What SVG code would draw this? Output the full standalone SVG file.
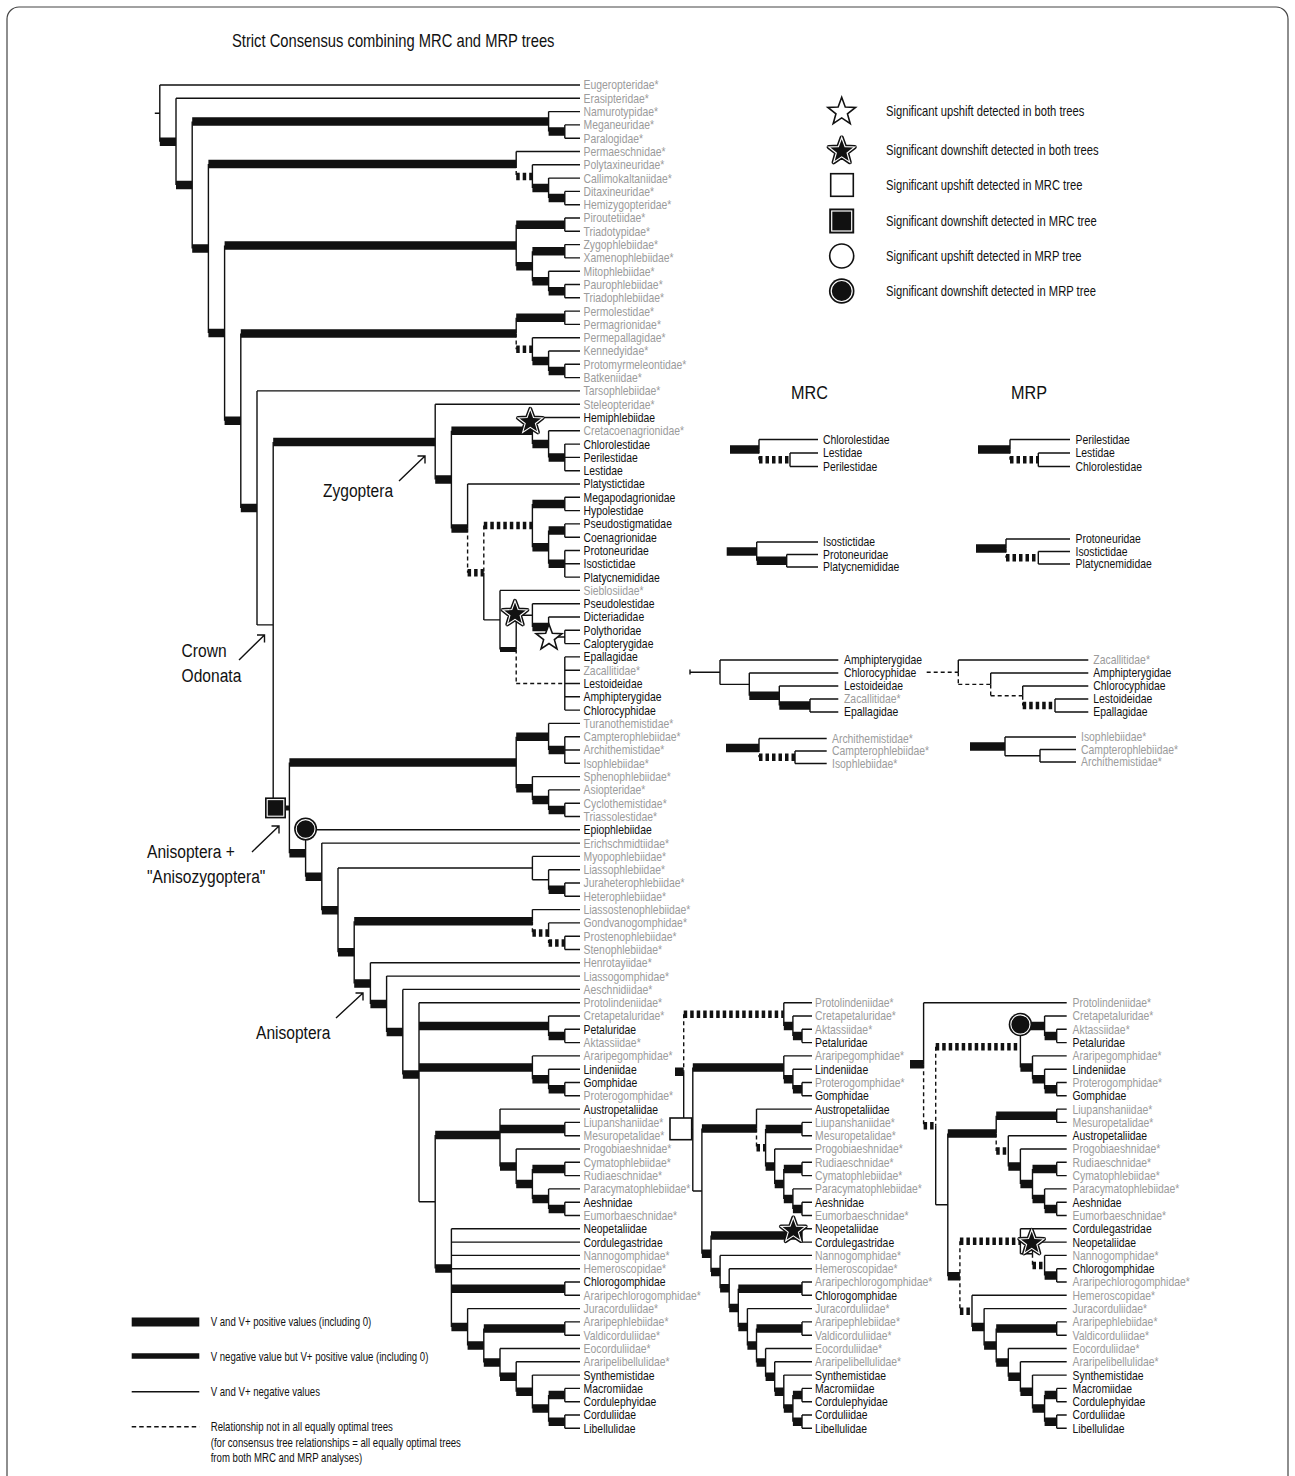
<svg xmlns="http://www.w3.org/2000/svg" width="1295" height="1476" viewBox="0 0 1295 1476">
<style>
.t{fill:none;stroke:#111;stroke-width:1.4}
.k{fill:none;stroke:#111;stroke-width:8.5}
.md{fill:none;stroke:#111;stroke-width:5}
.d{fill:none;stroke:#111;stroke-width:1.4;stroke-dasharray:4 3}
.kd{fill:none;stroke:#111;stroke-width:7.5;stroke-dasharray:3.5 3}
text{font-family:"Liberation Sans",Arial,Helvetica,sans-serif;fill:#111}
.lb text{font-size:13px}
.g{fill:#9b9b9b}
.big{font-size:19px}
.leg text{font-size:14px}
.leg2 text{font-size:13px}
</style>
<defs>
<polygon id="st" points="0,-13 3.17,-4.36 12.36,-4.02 5.12,1.66 7.64,10.52 0,5.39 -7.64,10.52 -5.12,1.66 -12.36,-4.02 -3.17,-4.36"/>
</defs>
<rect x="7" y="7" width="1281" height="1495" rx="12" fill="#fff" stroke="#444" stroke-width="1.2"/>
<text id="title" transform="translate(232,47) scale(.82,1)" font-size="18">Strict Consensus combining MRC and MRP trees</text>

<g id="connectors">
<path class="t" d="M154.8 113.3H159.8M159.8 85V141.7M159.8 85H580M176 98.3V185.1M176 98.3H580M192.2 121.6V248.5M548.6 111.6V131.6M548.6 111.6H580M564.8 124.9V138.2M564.8 124.9H580M564.8 138.2H580M208.4 164V333.1M516.2 151.5V164M516.2 151.5H580M532.4 164.8V188.1M532.4 164.8H580M548.6 178.1V198.1M548.6 178.1H580M564.8 191.4V204.7M564.8 191.4H580M564.8 204.7H580M224.6 245.4V420.7M516.2 224.7V266.2M564.8 218V231.3M564.8 218H580M564.8 231.3H580M532.4 251.3V281.2M564.8 244.6V257.9M564.8 244.6H580M564.8 257.9H580M548.6 271.2V291.2M548.6 271.2H580M564.8 284.5V297.8M564.8 284.5H580M564.8 297.8H580M240.8 333.5V507.9M516.2 317.8V333.5M564.8 311.1V324.4M564.8 311.1H580M564.8 324.4H580M532.4 337.7V361M532.4 337.7H580M548.6 351V371M548.6 351H580M564.8 364.3V377.6M564.8 364.3H580M564.8 377.6H580M257 390.9V624.9M257 390.9H580M257 624.9H273.2M273.2 441.9V807.9M273.2 807.9H289.4M435.2 404.2V479.6M435.2 404.2H580M451.4 430.8V528.4M532.4 417.5V444.1M532.4 417.5H580M548.6 430.8V457.4M548.6 430.8H580M564.8 444.1V470.7M564.8 444.1H580M564.8 457.4H580M564.8 470.7H580M467.6 484V528.4M467.6 484H580M483.8 572.7V619.9M483.8 619.9H500M532.4 504V547.2M564.8 497.3V510.6M564.8 497.3H580M564.8 510.6H580M548.6 530.6V563.8M564.8 523.9V537.2M564.8 523.9H580M564.8 537.2H580M564.8 550.5V577.1M564.8 550.5H580M564.8 563.8H580M564.8 577.1H580M500 590.4V649.4M500 590.4H580M516.2 615.3V649.4M516.2 615.3H532.4M532.4 603.7V627M532.4 603.7H580M548.6 617V637M548.6 617H580M548.6 637H564.8M564.8 630.3V643.6M564.8 630.3H580M564.8 643.6H580M564.8 656.9V710.1M564.8 656.9H580M564.8 670.2H580M564.8 683.5H580M564.8 696.8H580M564.8 710.1H580M289.4 762.5V853.2M516.2 736.7V788.2M548.6 723.4V750M548.6 723.4H580M564.8 736.7V763.3M564.8 736.7H580M564.8 750H580M564.8 763.3H580M532.4 776.6V799.9M532.4 776.6H580M548.6 789.9V809.9M548.6 789.9H580M564.8 803.2V816.5M564.8 803.2H580M564.8 816.5H580M305.6 829.8V876.7M305.6 829.8H580M321.8 843.1V910.2M321.8 843.1H580M338 868V952.3M338 868H532.4M532.4 856.4V879.7M532.4 856.4H580M532.4 879.7H548.6M548.6 869.7V889.7M548.6 869.7H580M564.8 883V896.3M564.8 883H580M564.8 896.3H580M354.2 921.2V983.4M532.4 909.6V921.2M532.4 909.6H580M548.6 922.9V932.9M548.6 922.9H580M564.8 936.2V949.5M564.8 936.2H580M564.8 949.5H580M370.4 962.8V1004M370.4 962.8H580M386.6 976.1V1031.9M386.6 976.1H580M402.8 989.4V1074.5M402.8 989.4H580M419 1002.7V1201.7M419 1002.7H580M419 1201.7H435.2M548.6 1016V1036M548.6 1016H580M564.8 1029.3V1042.6M564.8 1029.3H580M564.8 1042.6H580M532.4 1055.9V1079.2M532.4 1055.9H580M548.6 1069.2V1089.2M548.6 1069.2H580M564.8 1082.5V1095.8M564.8 1082.5H580M564.8 1095.8H580M435.2 1134.9V1268.5M500 1109.1V1166.5M500 1109.1H580M564.8 1122.4V1135.7M564.8 1122.4H580M564.8 1135.7H580M516.2 1149V1183.9M516.2 1149H580M532.4 1169V1198.9M564.8 1162.3V1175.6M564.8 1162.3H580M564.8 1175.6H580M548.6 1188.9V1208.9M548.6 1188.9H580M564.8 1202.2V1215.5M564.8 1202.2H580M564.8 1215.5H580M451.4 1228.8V1327.1M451.4 1228.8H580M451.4 1242.1H580M451.4 1255.4H580M451.4 1268.7H580M564.8 1282V1295.3M564.8 1282H580M564.8 1295.3H580M467.6 1308.6V1345.6M467.6 1308.6H580M483.8 1328.6V1362.6M564.8 1321.9V1335.2M564.8 1321.9H580M564.8 1335.2H580M500 1348.5V1376.8M500 1348.5H580M516.2 1361.8V1391.7M516.2 1361.8H580M532.4 1375.1V1408.4M532.4 1375.1H580M548.6 1395.1V1421.7M564.8 1388.4V1401.7M564.8 1388.4H580M564.8 1401.7H580M564.8 1415V1428.3M564.8 1415H580M564.8 1428.3H580"/>
<path class="k" d="M159.8 141.7H176M176 185.1H192.2M192.2 121.6H548.6M548.6 131.6H564.8M192.2 248.5H208.4M208.4 164H516.2M532.4 188.1H548.6M548.6 198.1H564.8M208.4 333.1H224.6M224.6 245.4H516.2M516.2 224.7H564.8M516.2 266.2H532.4M532.4 251.3H564.8M532.4 281.2H548.6M548.6 291.2H564.8M224.6 420.7H240.8M240.8 333.5H516.2M516.2 317.8H564.8M532.4 361H548.6M548.6 371H564.8M240.8 507.9H257M273.2 441.9H435.2M435.2 479.6H451.4M451.4 430.8H532.4M532.4 444.1H548.6M548.6 457.4H564.8M451.4 528.4H467.6M532.4 504H564.8M532.4 547.2H548.6M548.6 530.6H564.8M548.6 563.8H564.8M532.4 627H548.6M289.4 762.5H516.2M516.2 736.7H548.6M548.6 750H564.8M516.2 788.2H532.4M532.4 799.9H548.6M548.6 809.9H564.8M289.4 853.2H305.6M305.6 876.7H321.8M321.8 910.2H338M548.6 889.7H564.8M338 952.3H354.2M354.2 921.2H532.4M354.2 983.4H370.4M370.4 1004H386.6M386.6 1031.9H402.8M402.8 1074.5H419M419 1026H548.6M548.6 1036H564.8M419 1067.5H532.4M532.4 1079.2H548.6M548.6 1089.2H564.8M435.2 1134.9H500M500 1129.1H564.8M500 1166.5H516.2M516.2 1183.9H532.4M532.4 1169H564.8M532.4 1198.9H548.6M548.6 1208.9H564.8M435.2 1268.5H451.4M451.4 1288.7H564.8M451.4 1327.1H467.6M467.6 1345.6H483.8M483.8 1328.6H564.8M483.8 1362.6H500M500 1376.8H516.2M516.2 1391.7H532.4M532.4 1408.4H548.6M548.6 1395.1H564.8M548.6 1421.7H564.8"/>
<path class="md" d="M500 649.4H516.2M284 807.9H289.4"/>
<path class="kd" d="M516.2 176.4H532.4M516.2 349.3H532.4M467.6 572.7H483.8M483.8 525.6H532.4M532.4 932.9H548.6M548.6 942.9H564.8"/>
<path class="d" d="M516.2 164V176.4M516.2 333.5V349.3M467.6 528.4V572.7M483.8 525.6V572.7M516.2 649.4V683.5M516.2 683.5H564.8M532.4 921.2V932.9M548.6 932.9V942.9"/>

<path class="t" d="M683.7 1071.8V1129.3M683.7 1129.3H692.8M783.8 1002.7V1026M783.8 1002.7H812M792.9 1016V1036M792.9 1016H812M802 1029.3V1042.6M802 1029.3H812M802 1042.6H812M692.8 1067.5V1191M692.8 1191H701.9M783.8 1055.9V1079.2M783.8 1055.9H812M792.9 1069.2V1089.2M792.9 1069.2H812M802 1082.5V1095.8M802 1082.5H812M802 1095.8H812M701.9 1128.4V1253.7M756.5 1109.1V1128.4M756.5 1109.1H812M765.6 1129.1V1166.5M802 1122.4V1135.7M802 1122.4H812M802 1135.7H812M774.7 1149V1183.9M774.7 1149H812M783.8 1169V1198.9M802 1162.3V1175.6M802 1162.3H812M802 1175.6H812M792.9 1188.9V1208.9M792.9 1188.9H812M802 1202.2V1215.5M802 1202.2H812M802 1215.5H812M711 1235.5V1271.9M802 1228.8V1242.1M802 1228.8H812M802 1242.1H812M720.1 1255.4V1288.3M720.1 1255.4H812M729.2 1268.7V1307.9M729.2 1268.7H812M738.3 1288.7V1327.1M802 1282V1295.3M802 1282H812M802 1295.3H812M747.4 1308.6V1345.6M747.4 1308.6H812M756.5 1328.6V1362.6M802 1321.9V1335.2M802 1321.9H812M802 1335.2H812M765.6 1348.5V1376.8M765.6 1348.5H812M774.7 1361.8V1391.7M774.7 1361.8H812M783.8 1375.1V1408.4M783.8 1375.1H812M792.9 1395.1V1421.7M802 1388.4V1401.7M802 1388.4H812M802 1401.7H812M802 1415V1428.3M802 1415H812M802 1428.3H812"/>
<path class="k" d="M675 1071.8H683.7M783.8 1026H792.9M792.9 1036H802M692.8 1067.5H783.8M783.8 1079.2H792.9M792.9 1089.2H802M701.9 1128.4H756.5M765.6 1129.1H802M765.6 1166.5H774.7M774.7 1183.9H783.8M783.8 1169H802M783.8 1198.9H792.9M792.9 1208.9H802M701.9 1253.7H711M711 1235.5H802M711 1271.9H720.1M720.1 1288.3H729.2M729.2 1307.9H738.3M738.3 1288.7H802M738.3 1327.1H747.4M747.4 1345.6H756.5M756.5 1328.6H802M756.5 1362.6H765.6M765.6 1376.8H774.7M774.7 1391.7H783.8M783.8 1408.4H792.9M792.9 1395.1H802M792.9 1421.7H802"/>
<path class="kd" d="M683.7 1014.3H783.8M756.5 1147.8H765.6"/>
<path class="d" d="M683.7 1014.3V1071.8M756.5 1128.4V1147.8"/>

<path class="t" d="M923.6 1002.7V1064.3M923.6 1002.7H1066.7M935.7 1125.8V1204.8M935.7 1204.8H947.8M1020.4 1026V1067.5M1044.6 1016V1036M1044.6 1016H1066.7M1056.7 1029.3V1042.6M1056.7 1029.3H1066.7M1056.7 1042.6H1066.7M1032.5 1055.9V1079.2M1032.5 1055.9H1066.7M1044.6 1069.2V1089.2M1044.6 1069.2H1066.7M1056.7 1082.5V1095.8M1056.7 1082.5H1066.7M1056.7 1095.8H1066.7M947.8 1133.4V1276.2M996.2 1115.8V1133.4M1056.7 1109.1V1122.4M1056.7 1109.1H1066.7M1056.7 1122.4H1066.7M1008.3 1135.7V1166.5M1008.3 1135.7H1066.7M1020.4 1149V1183.9M1020.4 1149H1066.7M1032.5 1169V1198.9M1056.7 1162.3V1175.6M1056.7 1162.3H1066.7M1056.7 1175.6H1066.7M1044.6 1188.9V1208.9M1044.6 1188.9H1066.7M1056.7 1202.2V1215.5M1056.7 1202.2H1066.7M1056.7 1215.5H1066.7M1020.4 1228.8V1253.7M1020.4 1228.8H1066.7M1020.4 1253.7H1032.5M1032.5 1242.1V1253.7M1032.5 1242.1H1066.7M1044.6 1255.4V1275.4M1044.6 1255.4H1066.7M1056.7 1268.7V1282M1056.7 1268.7H1066.7M1056.7 1282H1066.7M972 1295.3V1327.1M972 1295.3H1066.7M984.1 1308.6V1345.6M984.1 1308.6H1066.7M996.2 1328.6V1362.6M1056.7 1321.9V1335.2M1056.7 1321.9H1066.7M1056.7 1335.2H1066.7M1008.3 1348.5V1376.8M1008.3 1348.5H1066.7M1020.4 1361.8V1391.7M1020.4 1361.8H1066.7M1032.5 1375.1V1408.4M1032.5 1375.1H1066.7M1044.6 1395.1V1421.7M1056.7 1388.4V1401.7M1056.7 1388.4H1066.7M1056.7 1401.7H1066.7M1056.7 1415V1428.3M1056.7 1415H1066.7M1056.7 1428.3H1066.7"/>
<path class="k" d="M910 1064.3H923.6M1020.4 1026H1044.6M1044.6 1036H1056.7M1020.4 1067.5H1032.5M1032.5 1079.2H1044.6M1044.6 1089.2H1056.7M947.8 1133.4H996.2M996.2 1115.8H1056.7M1008.3 1166.5H1020.4M1020.4 1183.9H1032.5M1032.5 1169H1056.7M1032.5 1198.9H1044.6M1044.6 1208.9H1056.7M947.8 1276.2H959.9M1044.6 1275.4H1056.7M972 1327.1H984.1M984.1 1345.6H996.2M996.2 1328.6H1056.7M996.2 1362.6H1008.3M1008.3 1376.8H1020.4M1020.4 1391.7H1032.5M1032.5 1408.4H1044.6M1044.6 1395.1H1056.7M1044.6 1421.7H1056.7"/>
<path class="kd" d="M923.6 1125.8H935.7M935.7 1046.8H1020.4M996.2 1151.1H1008.3M959.9 1241.3H1020.4M1032.5 1265.4H1044.6M959.9 1311.2H972"/>
<path class="d" d="M923.6 1064.3V1125.8M935.7 1046.8V1125.8M996.2 1133.4V1151.1M959.9 1241.3V1311.2M1032.5 1253.7V1265.4"/>

<path class="t" d="M759 439.5V449.6M759 439.5H818M790 453V466.5M790 453H818M790 466.5H818M1010 439.5V449.6M1010 439.5H1070M1038.3 453V466.5M1038.3 453H1070M1038.3 466.5H1070M756.7 542V560.8M756.7 542H818M786.7 554.5V567M786.7 554.5H818M786.7 567H818M1006 539V548.4M1006 539H1070M1038.3 551.5V564M1038.3 551.5H1070M1038.3 564H1070M690 669.5V674.5M690 672.2H720M720 660V684.4M720 660H838.3M720 684.4H749.3M749.3 673V695.8M749.3 673H838.3M779.3 686V705.5M779.3 686H838.3M810 699V712M810 699H838.3M810 712H838.3M958.3 660V672.2M958.3 660H1088.3M990.7 673V684.4M990.7 673H1088.3M1022.7 686V695.8M1022.7 686H1088.3M1055 699V712M1055 699H1088.3M1055 712H1088.3M759 738.5V747.9M759 738.5H826.7M795 751V763.5M795 751H826.7M795 763.5H826.7M1005 737V755.8M1005 737H1076M1005 755.8H1040M1040 749.5V762M1040 749.5H1076M1040 762H1076"/>
<path class="k" d="M730 449.6H759M978 449.6H1010M726.7 551.4H756.7M756.7 560.8H786.7M976 548.4H1006M749.3 695.8H779.3M779.3 705.5H810M726 747.9H759M970 746.4H1005"/>
<path class="kd" d="M759 459.8H790M1010 459.8H1038.3M1006 557.8H1038.3M1022.7 705.5H1055M759 757.3H795"/>
<path class="d" d="M759 449.6V459.8M1010 449.6V459.8M1006 548.4V557.8M926.7 672.2H958.3M958.3 672.2V684.4M958.3 684.4H990.7M990.7 684.4V695.8M990.7 695.8H1022.7M1022.7 695.8V705.5M759 747.9V757.3"/>

<g id="arrows" fill="none" stroke="#111" stroke-width="1.4">
<path d="M399 481L425 456M417.5 456H425V463.5"/>
<path d="M239 660L264.5 635M257 635H264.5V642.5"/>
<path d="M252 852L279 826M271.5 826H279V833.5"/>
<path d="M336 1018L363 993M355.5 993H363V1000.5"/>
</g>
</g>

<g id="markers">
<g id="star-lest" transform="translate(530.3,421.9)"><use href="#st" fill="#111" stroke="#111" stroke-width="4" stroke-linejoin="round"/><use href="#st" fill="#111" stroke="#fff" stroke-width="1.1"/></g>
<g id="star-cal" transform="translate(515,613.9)"><use href="#st" fill="#111" stroke="#111" stroke-width="4" stroke-linejoin="round"/><use href="#st" fill="#111" stroke="#fff" stroke-width="1.1"/></g>
<g id="star-poly" transform="translate(549,637.9) scale(1.05)"><use href="#st" fill="#fff" stroke="#111" stroke-width="1.5"/></g>
<g id="star-mrc" transform="translate(793.3,1230.5)"><use href="#st" fill="#111" stroke="#111" stroke-width="4" stroke-linejoin="round"/><use href="#st" fill="#111" stroke="#fff" stroke-width="1.1"/></g>
<g id="star-mrp" transform="translate(1031.7,1242.9)"><use href="#st" fill="#111" stroke="#111" stroke-width="4" stroke-linejoin="round"/><use href="#st" fill="#111" stroke="#fff" stroke-width="1.1"/></g>
<g id="sq-main"><rect x="265" y="797.4" width="21" height="21" fill="#111"/><rect x="267.2" y="799.6" width="16.6" height="16.6" fill="#111" stroke="#fff" stroke-width="1.1"/></g>
<g id="sq-mrc"><rect x="670" y="1118" width="21.7" height="21.7" fill="#fff" stroke="#111" stroke-width="1.6"/></g>
<g id="ci-main"><circle cx="305.6" cy="829" r="11.5" fill="#111"/><circle cx="305.6" cy="829" r="9.4" fill="#111" stroke="#fff" stroke-width="1.1"/></g>
<g id="ci-mrp"><circle cx="1020.4" cy="1024.5" r="11.7" fill="#111"/><circle cx="1020.4" cy="1024.5" r="9.6" fill="#111" stroke="#fff" stroke-width="1.1"/></g>
</g>

<g id="clade-labels">
<text id="lab-zyg" class="big" transform="translate(323,496.5) scale(.82,1)">Zygoptera</text>
<text id="lab-crown" class="big" transform="translate(181.6,657) scale(.82,1)">Crown</text>
<text id="lab-odonata" class="big" transform="translate(181.6,681.7) scale(.82,1)">Odonata</text>
<text id="lab-anis1" class="big" transform="translate(147,858) scale(.82,1)">Anisoptera +</text>
<text id="lab-anis2" class="big" transform="translate(147,883) scale(.82,1)">"Anisozygoptera"</text>
<text id="lab-anis" class="big" transform="translate(256,1039) scale(.82,1)">Anisoptera</text>
<text id="lab-mrc" transform="translate(791,399) scale(.9,1)" font-size="18">MRC</text>
<text id="lab-mrp" transform="translate(1011,399) scale(.9,1)" font-size="18">MRP</text>
</g>

<g id="main-taxa" class="lb" transform="translate(583.5,0.2) scale(.8,1)">
<text id="m1" class="g" y="89.3">Eugeropteridae*</text>
<text id="m2" class="g" y="102.6">Erasipteridae*</text>
<text id="m3" class="g" y="115.9">Namurotypidae*</text>
<text id="m4" class="g" y="129.2">Meganeuridae*</text>
<text id="m5" class="g" y="142.5">Paralogidae*</text>
<text id="m6" class="g" y="155.8">Permaeschnidae*</text>
<text id="m7" class="g" y="169.1">Polytaxineuridae*</text>
<text id="m8" class="g" y="182.4">Callimokaltaniidae*</text>
<text id="m9" class="g" y="195.7">Ditaxineuridae*</text>
<text id="m10" class="g" y="209">Hemizygopteridae*</text>
<text id="m11" class="g" y="222.3">Piroutetiidae*</text>
<text id="m12" class="g" y="235.6">Triadotypidae*</text>
<text id="m13" class="g" y="248.9">Zygophlebiidae*</text>
<text id="m14" class="g" y="262.2">Xamenophlebiidae*</text>
<text id="m15" class="g" y="275.5">Mitophlebiidae*</text>
<text id="m16" class="g" y="288.8">Paurophlebiidae*</text>
<text id="m17" class="g" y="302.1">Triadophlebiidae*</text>
<text id="m18" class="g" y="315.4">Permolestidae*</text>
<text id="m19" class="g" y="328.7">Permagrionidae*</text>
<text id="m20" class="g" y="342">Permepallagidae*</text>
<text id="m21" class="g" y="355.3">Kennedyidae*</text>
<text id="m22" class="g" y="368.6">Protomyrmeleontidae*</text>
<text id="m23" class="g" y="381.9">Batkeniidae*</text>
<text id="m24" class="g" y="395.2">Tarsophlebiidae*</text>
<text id="m25" class="g" y="408.5">Steleopteridae*</text>
<text id="m26" y="421.8">Hemiphlebiidae</text>
<text id="m27" class="g" y="435.1">Cretacoenagrionidae*</text>
<text id="m28" y="448.4">Chlorolestidae</text>
<text id="m29" y="461.7">Perilestidae</text>
<text id="m30" y="475">Lestidae</text>
<text id="m31" y="488.3">Platystictidae</text>
<text id="m32" y="501.6">Megapodagrionidae</text>
<text id="m33" y="514.9">Hypolestidae</text>
<text id="m34" y="528.2">Pseudostigmatidae</text>
<text id="m35" y="541.5">Coenagrionidae</text>
<text id="m36" y="554.8">Protoneuridae</text>
<text id="m37" y="568.1">Isostictidae</text>
<text id="m38" y="581.4">Platycnemididae</text>
<text id="m39" class="g" y="594.7">Sieblosiidae*</text>
<text id="m40" y="608">Pseudolestidae</text>
<text id="m41" y="621.3">Dicteriadidae</text>
<text id="m42" y="634.6">Polythoridae</text>
<text id="m43" y="647.9">Calopterygidae</text>
<text id="m44" y="661.2">Epallagidae</text>
<text id="m45" class="g" y="674.5">Zacallitidae*</text>
<text id="m46" y="687.8">Lestoideidae</text>
<text id="m47" y="701.1">Amphipterygidae</text>
<text id="m48" y="714.4">Chlorocyphidae</text>
<text id="m49" class="g" y="727.7">Turanothemistidae*</text>
<text id="m50" class="g" y="741">Campterophlebiidae*</text>
<text id="m51" class="g" y="754.3">Archithemistidae*</text>
<text id="m52" class="g" y="767.6">Isophlebiidae*</text>
<text id="m53" class="g" y="780.9">Sphenophlebiidae*</text>
<text id="m54" class="g" y="794.2">Asiopteridae*</text>
<text id="m55" class="g" y="807.5">Cyclothemistidae*</text>
<text id="m56" class="g" y="820.8">Triassolestidae*</text>
<text id="m57" y="834.1">Epiophlebiidae</text>
<text id="m58" class="g" y="847.4">Erichschmidtiidae*</text>
<text id="m59" class="g" y="860.7">Myopophlebiidae*</text>
<text id="m60" class="g" y="874">Liassophlebiidae*</text>
<text id="m61" class="g" y="887.3">Juraheterophlebiidae*</text>
<text id="m62" class="g" y="900.6">Heterophlebiidae*</text>
<text id="m63" class="g" y="913.9">Liassostenophlebiidae*</text>
<text id="m64" class="g" y="927.2">Gondvanogomphidae*</text>
<text id="m65" class="g" y="940.5">Prostenophlebiidae*</text>
<text id="m66" class="g" y="953.8">Stenophlebiidae*</text>
<text id="m67" class="g" y="967.1">Henrotayiidae*</text>
<text id="m68" class="g" y="980.4">Liassogomphidae*</text>
<text id="m69" class="g" y="993.7">Aeschnidiidae*</text>
<text id="m70" class="g" y="1007">Protolindeniidae*</text>
<text id="m71" class="g" y="1020.3">Cretapetaluridae*</text>
<text id="m72" y="1033.6">Petaluridae</text>
<text id="m73" class="g" y="1046.9">Aktassiidae*</text>
<text id="m74" class="g" y="1060.2">Araripegomphidae*</text>
<text id="m75" y="1073.5">Lindeniidae</text>
<text id="m76" y="1086.8">Gomphidae</text>
<text id="m77" class="g" y="1100.1">Proterogomphidae*</text>
<text id="m78" y="1113.4">Austropetaliidae</text>
<text id="m79" class="g" y="1126.7">Liupanshaniidae*</text>
<text id="m80" class="g" y="1140">Mesuropetalidae*</text>
<text id="m81" class="g" y="1153.3">Progobiaeshnidae*</text>
<text id="m82" class="g" y="1166.6">Cymatophlebiidae*</text>
<text id="m83" class="g" y="1179.9">Rudiaeschnidae*</text>
<text id="m84" class="g" y="1193.2">Paracymatophlebiidae*</text>
<text id="m85" y="1206.5">Aeshnidae</text>
<text id="m86" class="g" y="1219.8">Eumorbaeschnidae*</text>
<text id="m87" y="1233.1">Neopetaliidae</text>
<text id="m88" y="1246.4">Cordulegastridae</text>
<text id="m89" class="g" y="1259.7">Nannogomphidae*</text>
<text id="m90" class="g" y="1273">Hemeroscopidae*</text>
<text id="m91" y="1286.3">Chlorogomphidae</text>
<text id="m92" class="g" y="1299.6">Araripechlorogomphidae*</text>
<text id="m93" class="g" y="1312.9">Juracorduliidae*</text>
<text id="m94" class="g" y="1326.2">Araripephlebiidae*</text>
<text id="m95" class="g" y="1339.5">Valdicorduliidae*</text>
<text id="m96" class="g" y="1352.8">Eocorduliidae*</text>
<text id="m97" class="g" y="1366.1">Araripelibellulidae*</text>
<text id="m98" y="1379.4">Synthemistidae</text>
<text id="m99" y="1392.7">Macromiidae</text>
<text id="m100" y="1406">Cordulephyidae</text>
<text id="m101" y="1419.3">Corduliidae</text>
<text id="m102" y="1432.6">Libellulidae</text>
</g>

<g id="mrc-taxa" class="lb" transform="translate(815,0.2) scale(.8,1)">
<text id="c1" class="g" y="1007">Protolindeniidae*</text>
<text id="c2" class="g" y="1020.3">Cretapetaluridae*</text>
<text id="c3" class="g" y="1033.6">Aktassiidae*</text>
<text id="c4" y="1046.9">Petaluridae</text>
<text id="c5" class="g" y="1060.2">Araripegomphidae*</text>
<text id="c6" y="1073.5">Lindeniidae</text>
<text id="c7" class="g" y="1086.8">Proterogomphidae*</text>
<text id="c8" y="1100.1">Gomphidae</text>
<text id="c9" y="1113.4">Austropetaliidae</text>
<text id="c10" class="g" y="1126.7">Liupanshaniidae*</text>
<text id="c11" class="g" y="1140">Mesuropetalidae*</text>
<text id="c12" class="g" y="1153.3">Progobiaeshnidae*</text>
<text id="c13" class="g" y="1166.6">Rudiaeschnidae*</text>
<text id="c14" class="g" y="1179.9">Cymatophlebiidae*</text>
<text id="c15" class="g" y="1193.2">Paracymatophlebiidae*</text>
<text id="c16" y="1206.5">Aeshnidae</text>
<text id="c17" class="g" y="1219.8">Eumorbaeschnidae*</text>
<text id="c18" y="1233.1">Neopetaliidae</text>
<text id="c19" y="1246.4">Cordulegastridae</text>
<text id="c20" class="g" y="1259.7">Nannogomphidae*</text>
<text id="c21" class="g" y="1273">Hemeroscopidae*</text>
<text id="c22" class="g" y="1286.3">Araripechlorogomphidae*</text>
<text id="c23" y="1299.6">Chlorogomphidae</text>
<text id="c24" class="g" y="1312.9">Juracorduliidae*</text>
<text id="c25" class="g" y="1326.2">Araripephlebiidae*</text>
<text id="c26" class="g" y="1339.5">Valdicorduliidae*</text>
<text id="c27" class="g" y="1352.8">Eocorduliidae*</text>
<text id="c28" class="g" y="1366.1">Araripelibellulidae*</text>
<text id="c29" y="1379.4">Synthemistidae</text>
<text id="c30" y="1392.7">Macromiidae</text>
<text id="c31" y="1406">Cordulephyidae</text>
<text id="c32" y="1419.3">Corduliidae</text>
<text id="c33" y="1432.6">Libellulidae</text>
</g>

<g id="mrp-taxa" class="lb" transform="translate(1072.5,0.2) scale(.8,1)">
<text id="r1" class="g" y="1007">Protolindeniidae*</text>
<text id="r2" class="g" y="1020.3">Cretapetaluridae*</text>
<text id="r3" class="g" y="1033.6">Aktassiidae*</text>
<text id="r4" y="1046.9">Petaluridae</text>
<text id="r5" class="g" y="1060.2">Araripegomphidae*</text>
<text id="r6" y="1073.5">Lindeniidae</text>
<text id="r7" class="g" y="1086.8">Proterogomphidae*</text>
<text id="r8" y="1100.1">Gomphidae</text>
<text id="r9" class="g" y="1113.4">Liupanshaniidae*</text>
<text id="r10" class="g" y="1126.7">Mesuropetalidae*</text>
<text id="r11" y="1140">Austropetaliidae</text>
<text id="r12" class="g" y="1153.3">Progobiaeshnidae*</text>
<text id="r13" class="g" y="1166.6">Rudiaeschnidae*</text>
<text id="r14" class="g" y="1179.9">Cymatophlebiidae*</text>
<text id="r15" class="g" y="1193.2">Paracymatophlebiidae*</text>
<text id="r16" y="1206.5">Aeshnidae</text>
<text id="r17" class="g" y="1219.8">Eumorbaeschnidae*</text>
<text id="r18" y="1233.1">Cordulegastridae</text>
<text id="r19" y="1246.4">Neopetaliidae</text>
<text id="r20" class="g" y="1259.7">Nannogomphidae*</text>
<text id="r21" y="1273">Chlorogomphidae</text>
<text id="r22" class="g" y="1286.3">Araripechlorogomphidae*</text>
<text id="r23" class="g" y="1299.6">Hemeroscopidae*</text>
<text id="r24" class="g" y="1312.9">Juracorduliidae*</text>
<text id="r25" class="g" y="1326.2">Araripephlebiidae*</text>
<text id="r26" class="g" y="1339.5">Valdicorduliidae*</text>
<text id="r27" class="g" y="1352.8">Eocorduliidae*</text>
<text id="r28" class="g" y="1366.1">Araripelibellulidae*</text>
<text id="r29" y="1379.4">Synthemistidae</text>
<text id="r30" y="1392.7">Macromiidae</text>
<text id="r31" y="1406">Cordulephyidae</text>
<text id="r32" y="1419.3">Corduliidae</text>
<text id="r33" y="1432.6">Libellulidae</text>
</g>

<g id="small-mrc-lest" class="lb" transform="translate(823,0) scale(.8,1)">
<text y="444">Chlorolestidae</text><text y="457.5">Lestidae</text><text y="471">Perilestidae</text>
</g>
<g id="small-mrp-lest" class="lb" transform="translate(1075.5,0) scale(.8,1)">
<text y="444">Perilestidae</text><text y="457.5">Lestidae</text><text y="471">Chlorolestidae</text>
</g>
<g id="small-mrc-iso" class="lb" transform="translate(823,0) scale(.8,1)">
<text y="546.5">Isostictidae</text><text y="559">Protoneuridae</text><text y="571.5">Platycnemididae</text>
</g>
<g id="small-mrp-iso" class="lb" transform="translate(1075.5,0) scale(.8,1)">
<text y="543.5">Protoneuridae</text><text y="556">Isostictidae</text><text y="568.5">Platycnemididae</text>
</g>
<g id="small-mrc-amph" class="lb" transform="translate(844,0) scale(.8,1)">
<text y="664.5">Amphipterygidae</text><text y="677.5">Chlorocyphidae</text><text y="690.5">Lestoideidae</text><text class="g" y="703.5">Zacallitidae*</text><text y="716.5">Epallagidae</text>
</g>
<g id="small-mrp-amph" class="lb" transform="translate(1093.3,0) scale(.8,1)">
<text class="g" y="664.5">Zacallitidae*</text><text y="677.5">Amphipterygidae</text><text y="690.5">Chlorocyphidae</text><text y="703.5">Lestoideidae</text><text y="716.5">Epallagidae</text>
</g>
<g id="small-mrc-arch" class="lb" transform="translate(832,0) scale(.8,1)">
<text class="g" y="743">Archithemistidae*</text><text class="g" y="755.5">Campterophlebiidae*</text><text class="g" y="768">Isophlebiidae*</text>
</g>
<g id="small-mrp-arch" class="lb" transform="translate(1081,0) scale(.8,1)">
<text class="g" y="741.5">Isophlebiidae*</text><text class="g" y="754">Campterophlebiidae*</text><text class="g" y="766.5">Archithemistidae*</text>
</g>

<g id="legend-shifts">
<g id="leg-star-up" transform="translate(841.7,111.9) scale(1.12)"><use href="#st" fill="#fff" stroke="#111" stroke-width="1.4"/></g>
<g id="leg-star-down" transform="translate(841.7,151.2) scale(1.05)"><use href="#st" fill="#111" stroke="#111" stroke-width="4" stroke-linejoin="round"/><use href="#st" fill="#111" stroke="#fff" stroke-width="1.1"/></g>
<rect id="leg-sq-up" x="830.7" y="173.7" width="22.6" height="22.6" fill="#fff" stroke="#111" stroke-width="1.6"/>
<g id="leg-sq-down"><rect x="829.2" y="208.5" width="25" height="25" fill="#111"/><rect x="831.7" y="211" width="20" height="20" fill="#111" stroke="#fff" stroke-width="1.2"/></g>
<circle id="leg-ci-up" cx="841.7" cy="256" r="12" fill="#fff" stroke="#111" stroke-width="1.6"/>
<g id="leg-ci-down"><circle cx="841.7" cy="291" r="12.8" fill="#111"/><circle cx="841.7" cy="291" r="10.5" fill="#111" stroke="#fff" stroke-width="1.2"/></g>
<g class="leg" transform="translate(886,0) scale(.8,1)">
<text y="115.7">Significant upshift detected in both trees</text>
<text y="155">Significant downshift detected in both trees</text>
<text y="190">Significant upshift detected in MRC tree</text>
<text y="226">Significant downshift detected in MRC tree</text>
<text y="261">Significant upshift detected in MRP tree</text>
<text y="296">Significant downshift detected in MRP tree</text>
</g>
</g>

<g id="legend-lines">
<path d="M131.7 1322H199.3" stroke="#111" stroke-width="9"/>
<path d="M131.7 1356H199.3" stroke="#111" stroke-width="5.3"/>
<path d="M131.7 1391.7H199.3" stroke="#111" stroke-width="1.6"/>
<path d="M131.7 1426.7H199.3" stroke="#111" stroke-width="1.6" stroke-dasharray="4.5 3"/>
<g class="leg2" transform="translate(210.7,0) scale(.74,1)">
<text y="1326.3">V and V+ positive values (including 0)</text>
<text y="1361.3">V negative value but V+ positive value (including 0)</text>
<text y="1396.3">V and V+ negative values</text>
<text y="1431.3">Relationship not in all equally optimal trees</text>
<text y="1447">(for consensus tree relationships = all equally optimal trees</text>
<text y="1462.5">from both MRC and MRP analyses)</text>
</g>
</g>
</svg>
